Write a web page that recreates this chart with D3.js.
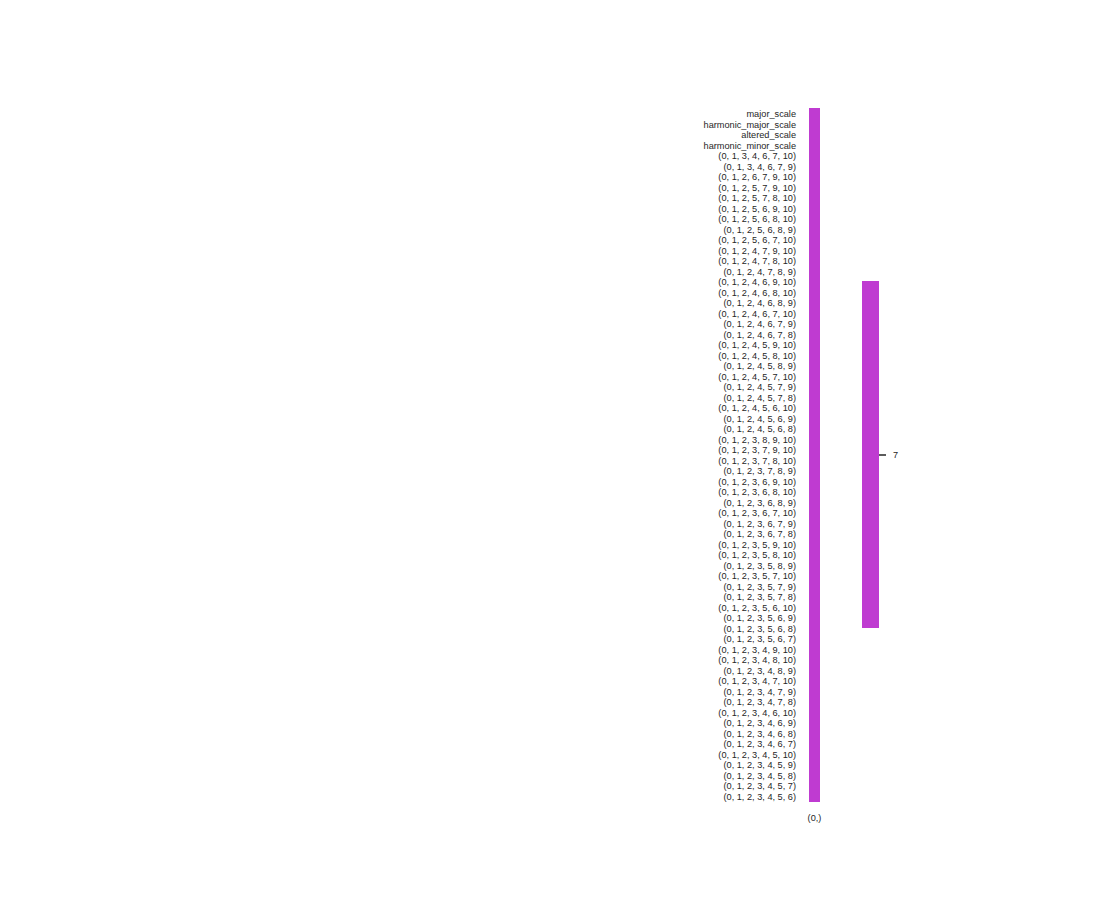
<!DOCTYPE html>
<html>
<head>
<meta charset="utf-8">
<script src="https://cdn.jsdelivr.net/npm/d3@7"></script>
<style>
body { margin: 0; background: #fff; }
text { font-family: "Liberation Sans", Arial, sans-serif; }
</style>
</head>
<body>
<svg id="chart" width="1100" height="900"></svg>
<script>
const rowLabels = [
  "major_scale","harmonic_major_scale","altered_scale","harmonic_minor_scale",
  "(0, 1, 3, 4, 6, 7, 10)","(0, 1, 3, 4, 6, 7, 9)","(0, 1, 2, 6, 7, 9, 10)","(0, 1, 2, 5, 7, 9, 10)",
  "(0, 1, 2, 5, 7, 8, 10)","(0, 1, 2, 5, 6, 9, 10)","(0, 1, 2, 5, 6, 8, 10)","(0, 1, 2, 5, 6, 8, 9)",
  "(0, 1, 2, 5, 6, 7, 10)","(0, 1, 2, 4, 7, 9, 10)","(0, 1, 2, 4, 7, 8, 10)","(0, 1, 2, 4, 7, 8, 9)",
  "(0, 1, 2, 4, 6, 9, 10)","(0, 1, 2, 4, 6, 8, 10)","(0, 1, 2, 4, 6, 8, 9)","(0, 1, 2, 4, 6, 7, 10)",
  "(0, 1, 2, 4, 6, 7, 9)","(0, 1, 2, 4, 6, 7, 8)","(0, 1, 2, 4, 5, 9, 10)","(0, 1, 2, 4, 5, 8, 10)",
  "(0, 1, 2, 4, 5, 8, 9)","(0, 1, 2, 4, 5, 7, 10)","(0, 1, 2, 4, 5, 7, 9)","(0, 1, 2, 4, 5, 7, 8)",
  "(0, 1, 2, 4, 5, 6, 10)","(0, 1, 2, 4, 5, 6, 9)","(0, 1, 2, 4, 5, 6, 8)","(0, 1, 2, 3, 8, 9, 10)",
  "(0, 1, 2, 3, 7, 9, 10)","(0, 1, 2, 3, 7, 8, 10)","(0, 1, 2, 3, 7, 8, 9)","(0, 1, 2, 3, 6, 9, 10)",
  "(0, 1, 2, 3, 6, 8, 10)","(0, 1, 2, 3, 6, 8, 9)","(0, 1, 2, 3, 6, 7, 10)","(0, 1, 2, 3, 6, 7, 9)",
  "(0, 1, 2, 3, 6, 7, 8)","(0, 1, 2, 3, 5, 9, 10)","(0, 1, 2, 3, 5, 8, 10)","(0, 1, 2, 3, 5, 8, 9)",
  "(0, 1, 2, 3, 5, 7, 10)","(0, 1, 2, 3, 5, 7, 9)","(0, 1, 2, 3, 5, 7, 8)","(0, 1, 2, 3, 5, 6, 10)",
  "(0, 1, 2, 3, 5, 6, 9)","(0, 1, 2, 3, 5, 6, 8)","(0, 1, 2, 3, 5, 6, 7)","(0, 1, 2, 3, 4, 9, 10)",
  "(0, 1, 2, 3, 4, 8, 10)","(0, 1, 2, 3, 4, 8, 9)","(0, 1, 2, 3, 4, 7, 10)","(0, 1, 2, 3, 4, 7, 9)",
  "(0, 1, 2, 3, 4, 7, 8)","(0, 1, 2, 3, 4, 6, 10)","(0, 1, 2, 3, 4, 6, 9)","(0, 1, 2, 3, 4, 6, 8)",
  "(0, 1, 2, 3, 4, 6, 7)","(0, 1, 2, 3, 4, 5, 10)","(0, 1, 2, 3, 4, 5, 9)","(0, 1, 2, 3, 4, 5, 8)",
  "(0, 1, 2, 3, 4, 5, 7)","(0, 1, 2, 3, 4, 5, 6)"
];
const colLabels = ["(0,)"];
const values = [
  7,7,7,7,7,7,7,7,7,7,7,7,7,7,7,7,7,7,7,7,7,7,
  7,7,7,7,7,7,7,7,7,7,7,7,7,7,7,7,7,7,7,7,7,7,
  7,7,7,7,7,7,7,7,7,7,7,7,7,7,7,7,7,7,7,7,7,7
];
const colorbarTicks = [7];

const svg = d3.select("#chart");
const textColor = "#262626";
const cellColor = "#bf3bd1";

const x = d3.scaleBand().domain(colLabels).range([809, 820]);
const y = d3.scaleBand().domain(rowLabels).range([108, 801]);
const color = d3.scaleLinear().domain([6.5, 7.5]).range([cellColor, cellColor]);

const cells = rowLabels.map((r, i) => ({ row: r, col: colLabels[0], v: values[i] }));

svg.append("g").selectAll("rect").data(cells).join("rect")
  .attr("x", d => x(d.col))
  .attr("y", d => y(d.row))
  .attr("width", x.bandwidth())
  .attr("height", y.bandwidth() + 0.5)
  .attr("fill", d => color(d.v))
  .attr("shape-rendering", "crispEdges");

// Y axis labels
const yAxis = d3.axisLeft(y).tickSize(0).tickPadding(13);
const gy = svg.append("g").attr("transform", "translate(809,0)").call(yAxis);
gy.select(".domain").remove();
gy.selectAll("text").attr("fill", textColor).attr("dy", "0.42em").style("font-size", "9.2px");

// X axis label
const xAxis = d3.axisBottom(x).tickSize(0).tickPadding(13);
const gx = svg.append("g").attr("transform", "translate(0,801)").call(xAxis);
gx.select(".domain").remove();
gx.selectAll("text").attr("fill", textColor).style("font-size", "9.2px");

// Colorbar
const cbY = d3.scaleLinear().domain([6.5, 7.5]).range([628, 281]);
svg.append("rect")
  .attr("x", 862).attr("y", cbY(7.5))
  .attr("width", 17).attr("height", cbY(6.5) - cbY(7.5))
  .attr("fill", color(7))
  .attr("shape-rendering", "crispEdges");
const cbAxis = d3.axisRight(cbY).tickValues(colorbarTicks).tickSize(7).tickPadding(7).tickFormat(d3.format("d"));
const gcb = svg.append("g").attr("transform", "translate(879,0)").call(cbAxis);
gcb.select(".domain").remove();
gcb.selectAll("line").attr("stroke", textColor).attr("stroke-width", 1.5);
gcb.selectAll("text").attr("fill", textColor).style("font-size", "9.2px");
</script>
</body>
</html>
